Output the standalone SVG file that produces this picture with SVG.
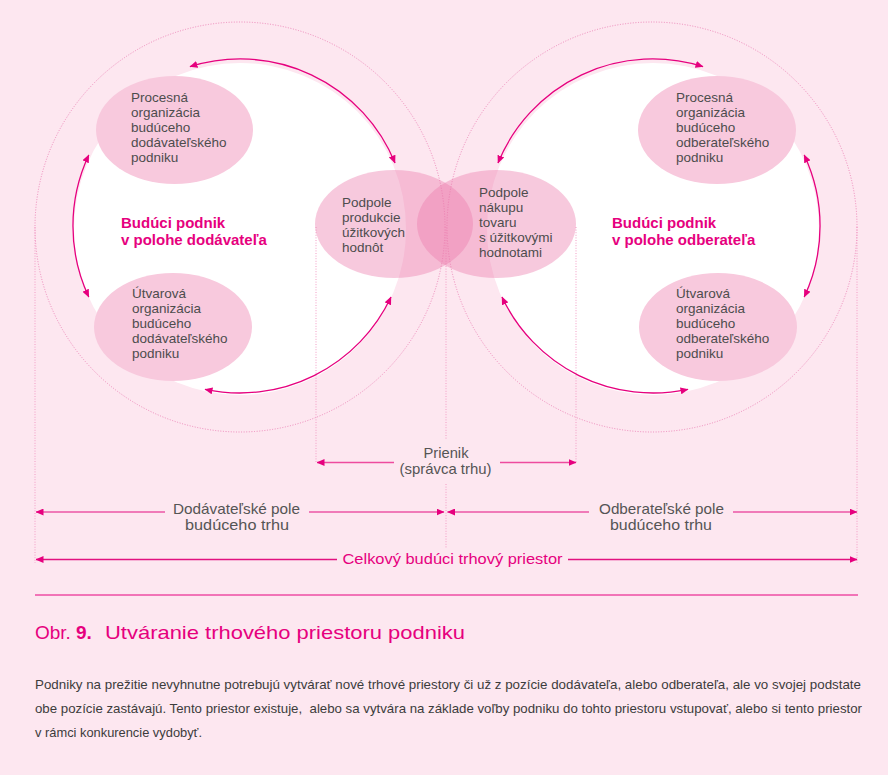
<svg xmlns="http://www.w3.org/2000/svg" width="888" height="775" viewBox="0 0 888 775">
  <defs>
    <marker id="ah" viewBox="0 0 8 7" refX="7.5" refY="3.5" markerWidth="8" markerHeight="7" markerUnits="userSpaceOnUse" orient="auto-start-reverse">
      <path d="M0,0 L8,3.5 L0,7 z" fill="#e6007e"/>
    </marker>
    <style>
      .bg { fill: #fde7f0; }
      .field { fill: #ffffff; }
      .zone { fill: none; stroke: #ee88ba; stroke-width: 1; stroke-dasharray: 1 1.6; }
      .guide { fill: none; stroke: #f29cc5; stroke-width: 1; stroke-dasharray: 1 1.6; }
      .blob { fill: #f8c9dd; }
      .blob-t { fill: #eb7bac; fill-opacity: 0.41; }
      .arc { fill: none; stroke: #e6007e; stroke-width: 1.3; marker-start: url(#ah); marker-end: url(#ah); }
      .dim1 { fill: none; stroke: #ee4b9e; stroke-width: 1.6; }
      .dim2 { fill: none; stroke: #f07ab8; stroke-width: 2.2; }
      .dim3 { fill: none; stroke: #e2117f; stroke-width: 1.4; }
      .ms { marker-start: url(#ah); }
      .me { marker-end: url(#ah); }
      .lbl { font-family: "Liberation Sans", Arial, sans-serif; font-size: 13.5px; fill: #4d4d4d; }
      .head { font-family: "Liberation Sans", Arial, sans-serif; font-size: 15px; font-weight: bold; fill: #e6007e; }
      .dimt { font-family: "Liberation Sans", Arial, sans-serif; font-size: 15px; fill: #555555; text-anchor: middle; }
      .dimm { font-family: "Liberation Sans", Arial, sans-serif; font-size: 15.5px; fill: #e6007e; text-anchor: middle; }
      .cap { font-family: "Liberation Sans", Arial, sans-serif; font-size: 19px; fill: #e6007e; }
      .body { font-family: "Liberation Sans", Arial, sans-serif; font-size: 13.3px; fill: #3c3c3c; }
    </style>
  </defs>

  <!-- page background -->
  <rect class="bg" x="0" y="0" width="888" height="775"/>

  <!-- outer dotted market zones -->
  <circle class="zone" cx="240" cy="227" r="205"/>
  <circle class="zone" cx="652" cy="227" r="205"/>

  <!-- white company fields -->
  <circle class="field" cx="240" cy="229" r="166"/>
  <circle class="field" cx="653" cy="229" r="166"/>

  <!-- vertical guide lines -->
  <g id="guides">
    <line class="guide" x1="35" y1="227" x2="35" y2="563"/>
    <line class="guide" x1="857" y1="227" x2="857" y2="563"/>
    <line class="guide" x1="316" y1="227" x2="316" y2="463"/>
    <line class="guide" x1="576" y1="227" x2="576" y2="463"/>
    <line class="guide" x1="446" y1="227" x2="446" y2="440"/>
    <line class="guide" x1="446" y1="484" x2="446" y2="548"/>
  </g>

  <!-- supplier side -->
  <g id="node-proc-dod">
    <ellipse class="blob" cx="174.5" cy="130" rx="78.5" ry="54"/>
    <text class="lbl" x="131" y="102">Procesná</text>
    <text class="lbl" x="131" y="117">organizácia</text>
    <text class="lbl" x="131" y="132">budúceho</text>
    <text class="lbl" x="131" y="147">dodávateľského</text>
    <text class="lbl" x="131" y="162">podniku</text>
  </g>
  <g id="node-utv-dod">
    <ellipse class="blob" cx="173" cy="327" rx="79" ry="54"/>
    <text class="lbl" x="132" y="298">Útvarová</text>
    <text class="lbl" x="132" y="313">organizácia</text>
    <text class="lbl" x="132" y="328">budúceho</text>
    <text class="lbl" x="132" y="343">dodávateľského</text>
    <text class="lbl" x="132" y="358">podniku</text>
  </g>
  <g id="node-prod">
    <ellipse class="blob-t" cx="394" cy="224" rx="79" ry="54"/>
    <text class="lbl" x="342" y="207">Podpole</text>
    <text class="lbl" x="342" y="222">produkcie</text>
    <text class="lbl" x="342" y="237">úžitkových</text>
    <text class="lbl" x="342" y="252">hodnôt</text>
  </g>
  <g id="head-dod">
    <text class="head" x="121" y="228">Budúci podnik</text>
    <text class="head" x="121" y="245">v polohe dodávateľa</text>
  </g>

  <!-- customer side -->
  <g id="node-nakup">
    <ellipse class="blob-t" cx="496.5" cy="224" rx="79.5" ry="54"/>
    <text class="lbl" x="479" y="197">Podpole</text>
    <text class="lbl" x="479" y="212">nákupu</text>
    <text class="lbl" x="479" y="227">tovaru</text>
    <text class="lbl" x="479" y="242">s úžitkovými</text>
    <text class="lbl" x="479" y="257">hodnotami</text>
  </g>
  <g id="node-proc-odb">
    <ellipse class="blob" cx="717" cy="130" rx="79" ry="54"/>
    <text class="lbl" x="676" y="102">Procesná</text>
    <text class="lbl" x="676" y="117">organizácia</text>
    <text class="lbl" x="676" y="132">budúceho</text>
    <text class="lbl" x="676" y="147">odberateľského</text>
    <text class="lbl" x="676" y="162">podniku</text>
  </g>
  <g id="node-utv-odb">
    <ellipse class="blob" cx="718" cy="327" rx="79" ry="54"/>
    <text class="lbl" x="676" y="298">Útvarová</text>
    <text class="lbl" x="676" y="313">organizácia</text>
    <text class="lbl" x="676" y="328">budúceho</text>
    <text class="lbl" x="676" y="343">odberateľského</text>
    <text class="lbl" x="676" y="358">podniku</text>
  </g>
  <g id="head-odb">
    <text class="head" x="612" y="228">Budúci podnik</text>
    <text class="head" x="612" y="245">v polohe odberateľa</text>
  </g>

  <!-- connectors: circular relations and dimension lines -->
  <g id="connectors">
    <path class="arc" d="M190,66.7 A167,167 0 0 1 395,163"/>
    <path class="arc" d="M88.8,155 A167,167 0 0 0 88.8,297"/>
    <path class="arc" d="M205,389.3 A167,167 0 0 0 391,297"/>

    <path class="arc" d="M498,163 A167,167 0 0 1 703,66.7"/>
    <path class="arc" d="M804.2,155 A167,167 0 0 1 804.2,297"/>
    <path class="arc" d="M502,297 A167,167 0 0 0 688,389.3"/>

    <line class="dim1 ms" x1="317" y1="462.5" x2="394" y2="462.5"/>
    <line class="dim1 me" x1="500" y1="462.5" x2="576" y2="462.5"/>

    <line class="dim2 ms" x1="36" y1="512" x2="165" y2="512"/>
    <line class="dim2 me" x1="309" y1="512" x2="444" y2="512"/>
    <line class="dim2 ms" x1="447.5" y1="512" x2="589" y2="512"/>
    <line class="dim2 me" x1="733" y1="512" x2="857" y2="512"/>

    <line class="dim3 ms" x1="36" y1="559.5" x2="337" y2="559.5"/>
    <line class="dim3 me" x1="568" y1="559.5" x2="857" y2="559.5"/>
  </g>

  <!-- dimension labels -->
  <g id="dim-labels">
    <text class="dimt" x="446" y="458" textLength="45" lengthAdjust="spacingAndGlyphs">Prienik</text>
    <text class="dimt" x="445.5" y="474" textLength="92" lengthAdjust="spacingAndGlyphs">(správca trhu)</text>
    <text class="dimt" x="236.5" y="514" textLength="127" lengthAdjust="spacingAndGlyphs">Dodávateľské pole</text>
    <text class="dimt" x="237" y="530" textLength="104" lengthAdjust="spacingAndGlyphs">budúceho trhu</text>
    <text class="dimt" x="661.5" y="514" textLength="125" lengthAdjust="spacingAndGlyphs">Odberateľské pole</text>
    <text class="dimt" x="661" y="530" textLength="102" lengthAdjust="spacingAndGlyphs">budúceho trhu</text>
    <text class="dimm" x="452.5" y="564" textLength="220" lengthAdjust="spacingAndGlyphs">Celkový budúci trhový priestor</text>
  </g>

  <!-- caption rule -->
  <line x1="35" y1="595" x2="858" y2="595" stroke="#e6007e" stroke-width="1"/>

  <!-- caption -->
  <g id="caption">
    <text class="cap" x="35" y="639">Obr.</text>
    <text class="cap" x="76" y="639" font-weight="bold">9.</text>
    <text class="cap" x="105" y="639" textLength="360" lengthAdjust="spacingAndGlyphs">Utváranie trhového priestoru podniku</text>
  </g>

  <!-- description -->
  <g id="description">
    <text class="body" x="35" y="689" textLength="826" lengthAdjust="spacingAndGlyphs">Podniky na prežitie nevyhnutne potrebujú vytvárať nové trhové priestory či už z pozície dodávateľa, alebo odberateľa, ale vo svojej podstate</text>
    <text class="body" x="35" y="713" textLength="827" lengthAdjust="spacingAndGlyphs" style="white-space:pre">obe pozície zastávajú. Tento priestor existuje,  alebo sa vytvára na základe voľby podniku do tohto priestoru vstupovať, alebo si tento priestor</text>
    <text class="body" x="35" y="737" textLength="167" lengthAdjust="spacingAndGlyphs">v rámci konkurencie vydobyť.</text>
  </g>
</svg>
